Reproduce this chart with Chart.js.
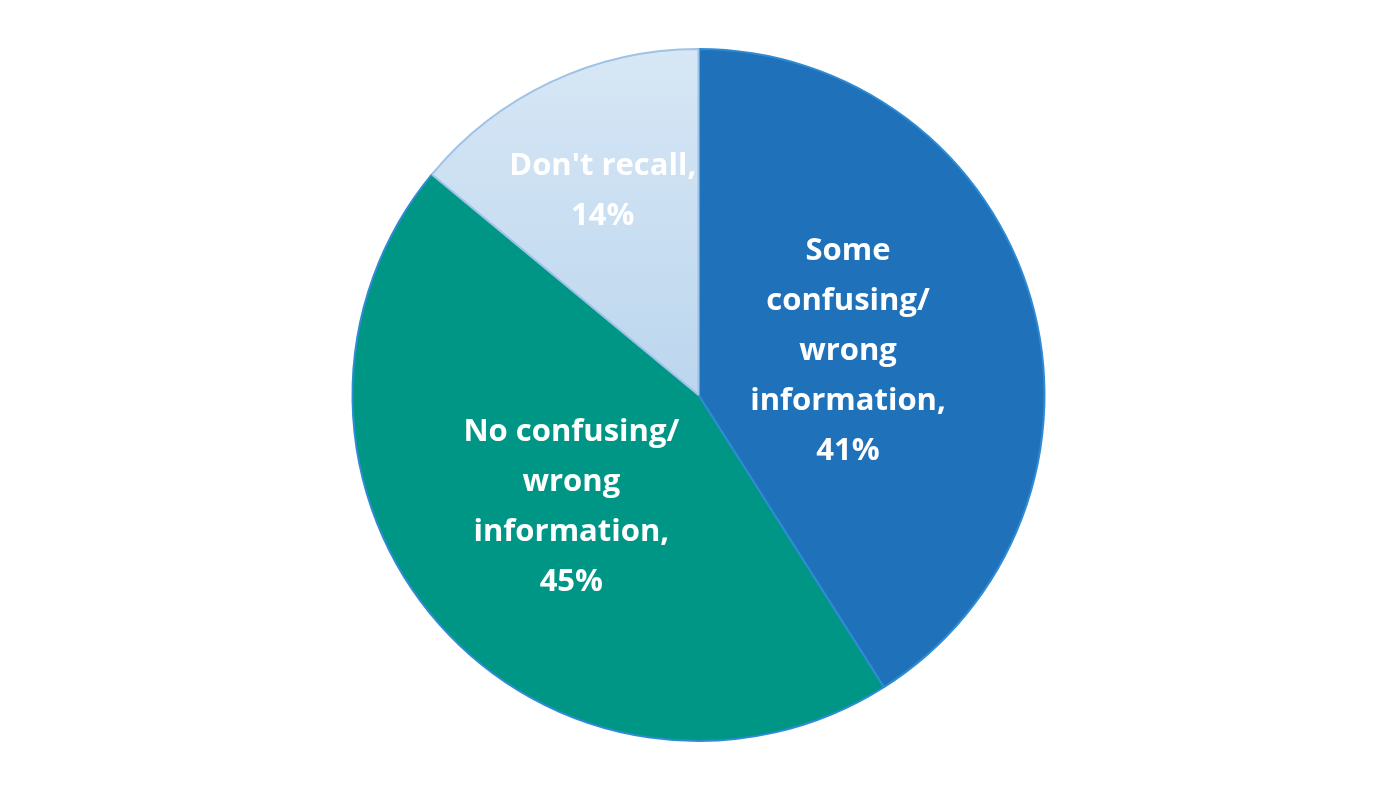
<!DOCTYPE html>
<html>
<head>
<meta charset="utf-8">
<script src="https://cdn.jsdelivr.net/npm/chart.js@4/dist/chart.umd.min.js"></script>
<style>
  html, body { margin: 0; padding: 0; background: #fff; }
</style>
</head>
<body>
<canvas id="pie" width="1397" height="791"></canvas>
<script>
// data
const categories = ['Some confusing/ wrong information', 'No confusing/ wrong information', "Don't recall"];
const shares = [41, 45, 14];
const labelLines = [
  ['Some', 'confusing/', 'wrong', 'information,', '41%'],
  ['No confusing/', 'wrong', 'information,', '45%'],
  ["Don't recall,", '14%']
];

// where each label sits, as a fraction of the radius
const labelRadius = [0.45, 0.49, 0.65];

const labelPlugin = {
  id: 'sliceLabels',
  afterDatasetsDraw(chart) {
    const ctx = chart.ctx;
    const meta = chart.getDatasetMeta(0);
    ctx.save();
    ctx.fillStyle = '#fff';
    ctx.font = 'bold 31px "Open Sans", Lato, sans-serif';
    ctx.textAlign = 'center';
    ctx.textBaseline = 'middle';
    meta.data.forEach((arc, i) => {
      const mid = (arc.startAngle + arc.endAngle) / 2;
      const r = arc.outerRadius * labelRadius[i];
      const cx = arc.x + Math.cos(mid) * r;
      const cy = arc.y + Math.sin(mid) * r;
      const lines = labelLines[i];
      const lh = 50;
      lines.forEach((t, k) => {
        ctx.fillText(t, cx, cy + (k - (lines.length - 1) / 2) * lh);
      });
    });
    ctx.restore();
  }
};

function sliceColor(c) {
  const i = c.dataIndex;
  if (i === 0) return '#1f72ba';
  if (i === 1) return '#009686';
  const area = c.chart.chartArea;
  if (!area) return '#cbdff1';
  const g = c.chart.ctx.createLinearGradient(0, area.top, 0, area.top + 350);
  g.addColorStop(0, '#d7e7f5');
  g.addColorStop(1, '#bcd6ee');
  return g;
}

new Chart(document.getElementById('pie'), {
  type: 'pie',
  data: {
    labels: categories,
    datasets: [{
      data: shares,
      backgroundColor: sliceColor,
      borderColor: ['#2e8bd4', '#2e8bd4', '#9dc3e6'],
      borderWidth: 2
    }]
  },
  options: {
    responsive: false,
    animation: false,
    layout: { padding: { top: 48, bottom: 49 } },
    plugins: {
      legend: { display: false },
      tooltip: { enabled: false }
    }
  },
  plugins: [labelPlugin]
});
</script>
</body>
</html>
